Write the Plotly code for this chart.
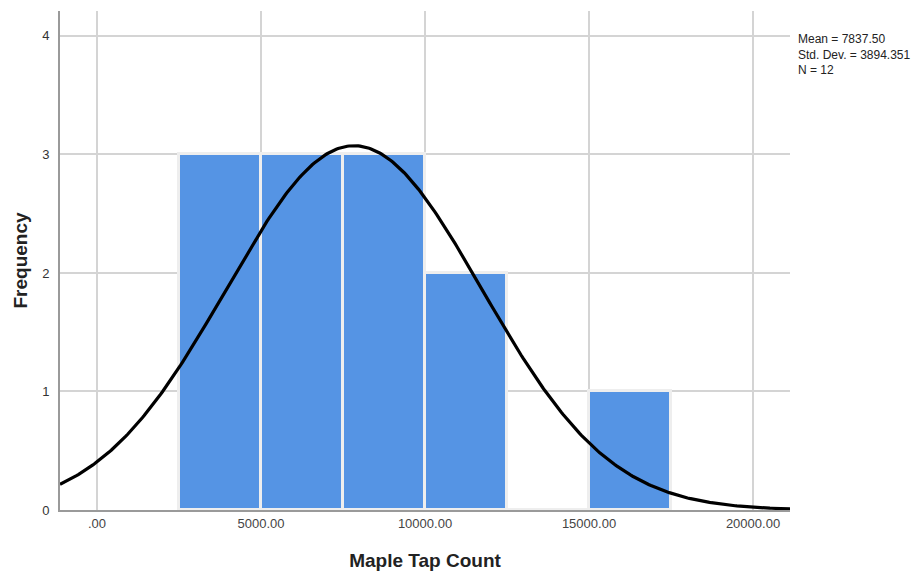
import numpy as np
import plotly.graph_objects as go

bin_starts = [2500, 5000, 7500, 10000, 12500, 15000]
frequencies = [3, 3, 3, 2, 0, 1]
bin_width = 2500
mean_val = 7837.50
std_val = 3894.351
n_val = 12
x_tick_vals = [0, 5000, 10000, 15000, 20000]
x_tick_text = [".00", "5000.00", "10000.00", "15000.00", "20000.00"]
y_tick_vals = [0, 1, 2, 3, 4]
stats_lines = [f"Mean = {mean_val:.2f}", f"Std. Dev. = {std_val:.3f}", f"N = {n_val}"]

x_range = [-1128, 21128]
xs = np.linspace(x_range[0], x_range[1], 400)
ys = n_val * bin_width / (std_val * np.sqrt(2 * np.pi)) * np.exp(-0.5 * ((xs - mean_val) / std_val) ** 2)

fig = go.Figure()
fig.add_trace(go.Bar(
    x=[b + bin_width / 2 for b in bin_starts], y=frequencies, width=bin_width,
    marker=dict(color="#5594e4", line=dict(color="#eeeeee", width=3)),
    showlegend=False, hoverinfo="skip"))
fig.add_trace(go.Scatter(x=xs, y=ys, mode="lines",
                         line=dict(color="black", width=3.2), showlegend=False))

fig.update_layout(
    width=916, height=565,
    margin=dict(l=52, r=134, t=3, b=63),
    paper_bgcolor="white", plot_bgcolor="white",
    bargap=0,
    font=dict(family="Arial, Liberation Sans, sans-serif", color="#333333"),
    xaxis=dict(range=x_range, tickvals=x_tick_vals, ticktext=x_tick_text,
               showgrid=True, gridcolor="#d4d4d4", gridwidth=1.5,
               showline=True, linecolor="#9a9a9a", linewidth=2, ticks="",
               tickfont=dict(size=13, color="#444444"), zeroline=False, automargin=False,
               title=dict(text="<b>Maple Tap Count</b>", font=dict(size=19, color="#222222"), standoff=24)),
    yaxis=dict(range=[0, 4.21], tickvals=y_tick_vals,
               showgrid=True, gridcolor="#d4d4d4", gridwidth=1.5,
               showline=True, linecolor="#9a9a9a", linewidth=2, ticks="",
               tickfont=dict(size=13, color="#333333"), zeroline=False, automargin=False,
               ticklabelstandoff=6,
               title=dict(text="<b>Frequency</b>", font=dict(size=19, color="#222222"), standoff=10)),
)
fig.add_annotation(
    xref="paper", yref="paper", x=1.0, y=0.912, xanchor="left", yanchor="middle",
    xshift=6, align="left", showarrow=False, text="<br>".join(stats_lines),
    font=dict(size=12, color="#222222"))

fig.write_html("out.html")
